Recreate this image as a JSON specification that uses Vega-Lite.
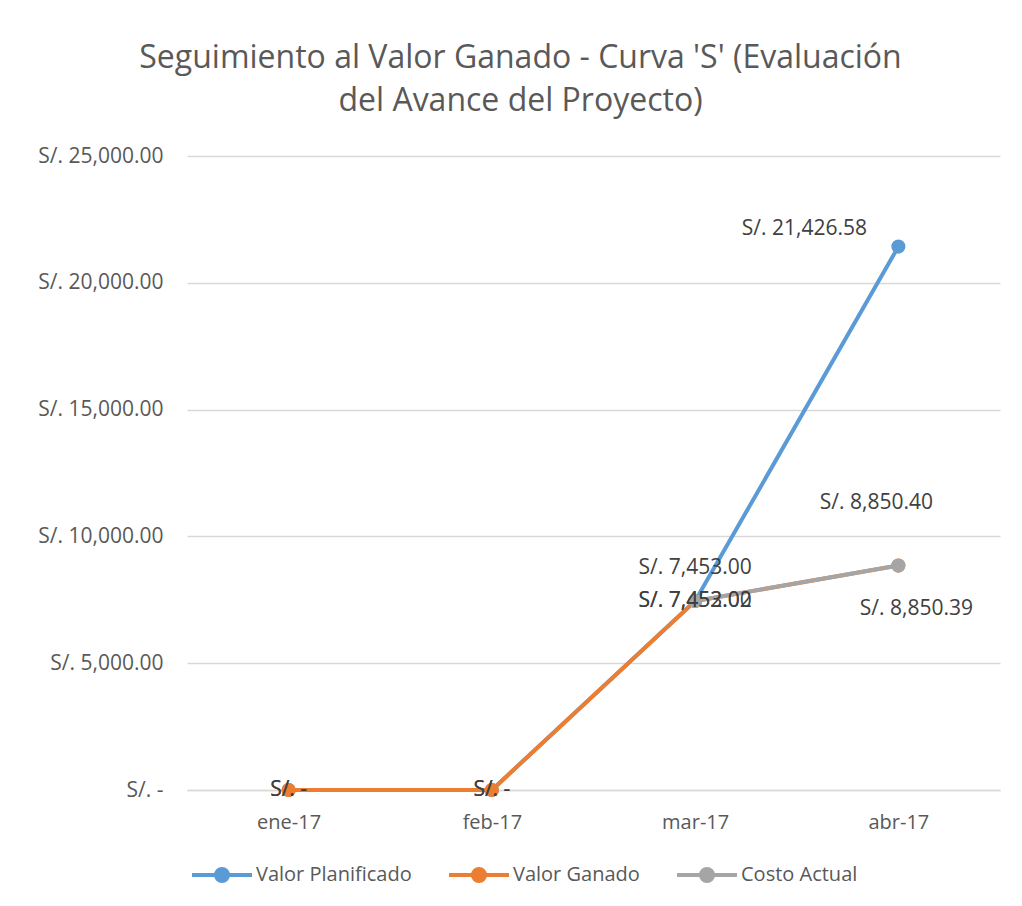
{
  "$schema": "https://vega.github.io/schema/vega-lite/v6.json",
  "autosize": {"type": "none"},
  "width": 813,
  "height": 634,
  "padding": {"left": 187, "top": 156, "right": 22, "bottom": 116},
  "background": "white",
  "title": {
    "text": ["Seguimiento al Valor Ganado - Curva 'S' (Evaluación", "del Avance del Proyecto)"],
    "font": "Open Sans",
    "fontSize": 32,
    "fontWeight": "normal",
    "color": "#595959",
    "anchor": "middle",
    "dx": -73,
    "offset": 27,
    "lineHeight": 43
  },
  "config": {
    "view": {"stroke": null},
    "font": "Open Sans"
  },
  "data": {
    "values": [
      {"mes": "ene-17", "serie": "Valor Planificado", "v": 0},
      {"mes": "feb-17", "serie": "Valor Planificado", "v": 0},
      {"mes": "mar-17", "serie": "Valor Planificado", "v": 7453.00},
      {"mes": "abr-17", "serie": "Valor Planificado", "v": 21426.58},
      {"mes": "ene-17", "serie": "Valor Ganado", "v": 0},
      {"mes": "feb-17", "serie": "Valor Ganado", "v": 0},
      {"mes": "mar-17", "serie": "Valor Ganado", "v": 7452.00},
      {"mes": "abr-17", "serie": "Valor Ganado", "v": 8850.39},
      {"mes": "mar-17", "serie": "Costo Actual", "v": 7453.02},
      {"mes": "abr-17", "serie": "Costo Actual", "v": 8850.40}
    ]
  },
  "transform": [
    {"calculate": "datum.v == 0 ? 'S/. -' : 'S/. ' + format(datum.v, ',.2f')", "as": "label"}
  ],
  "encoding": {
    "x": {
      "field": "mes",
      "type": "ordinal",
      "sort": ["ene-17", "feb-17", "mar-17", "abr-17"],
      "scale": {"type": "point", "padding": 0.5},
      "axis": {
        "title": null,
        "labelAngle": 0,
        "labelFont": "Open Sans",
        "labelFontSize": 20,
        "labelColor": "#595959",
        "labelPadding": 22,
        "ticks": false,
        "domainColor": "#d9d9d9",
        "domainWidth": 1.5,
        "grid": false
      }
    },
    "y": {
      "field": "v",
      "type": "quantitative",
      "scale": {"domain": [0, 25000], "nice": false},
      "axis": {
        "title": null,
        "values": [0, 5000, 10000, 15000, 20000, 25000],
        "labelExpr": "datum.value == 0 ? 'S/. -' : 'S/. ' + format(datum.value, ',.2f')",
        "labelFont": "Open Sans",
        "labelFontSize": 21,
        "labelColor": "#595959",
        "labelPadding": 24,
        "ticks": false,
        "domain": false,
        "gridColor": "#d9d9d9",
        "gridWidth": 1.5
      }
    }
  },
  "layer": [
    {
      "mark": {"type": "line", "strokeWidth": 4, "point": {"size": 200, "filled": true}},
      "encoding": {
        "color": {
          "field": "serie",
          "type": "nominal",
          "sort": ["Valor Planificado", "Valor Ganado", "Costo Actual"],
          "scale": {"domain": ["Valor Planificado", "Valor Ganado", "Costo Actual"], "range": ["#5B9BD5", "#ED7D31", "#A5A5A5"]},
          "legend": {
            "title": null,
            "orient": "none",
            "direction": "horizontal",
            "legendX": 3,
            "legendY": 687,
            "labelFont": "Open Sans",
            "labelFontSize": 20,
            "labelColor": "#595959",
            "symbolType": "M-1,0L-0.2,0M0.2,0L1,0M-0.2,0A0.2,0.2 0 1,1 0.2,0A0.2,0.2 0 1,1 -0.2,0",
            "symbolSize": 3600,
            "symbolStrokeWidth": 4,
            "columnPadding": 29,
            "labelOffset": 2
          }
        }
      }
    },
    {
      "transform": [{"filter": "datum.mes == 'ene-17' || datum.mes == 'feb-17' || (datum.mes == 'mar-17' && datum.serie != 'Valor Planificado')"}],
      "mark": {"type": "text", "fontSize": 21, "color": "#404040", "align": "center", "baseline": "middle"},
      "encoding": {"text": {"field": "label"}}
    },
    {
      "transform": [{"filter": "datum.mes == 'mar-17' && datum.serie == 'Valor Planificado'"}],
      "mark": {"type": "text", "fontSize": 21, "color": "#404040", "align": "center", "baseline": "middle", "dy": -33},
      "encoding": {"text": {"field": "label"}}
    },
    {
      "transform": [{"filter": "datum.mes == 'abr-17' && datum.serie == 'Valor Planificado'"}],
      "mark": {"type": "text", "fontSize": 21, "color": "#404040", "align": "center", "baseline": "middle", "dx": -94, "dy": -18},
      "encoding": {"text": {"field": "label"}}
    },
    {
      "transform": [{"filter": "datum.mes == 'abr-17' && datum.serie == 'Costo Actual'"}],
      "mark": {"type": "text", "fontSize": 21, "color": "#404040", "align": "center", "baseline": "middle", "dx": -22, "dy": -63},
      "encoding": {"text": {"field": "label"}}
    },
    {
      "transform": [{"filter": "datum.mes == 'abr-17' && datum.serie == 'Valor Ganado'"}],
      "mark": {"type": "text", "fontSize": 21, "color": "#404040", "align": "center", "baseline": "middle", "dx": 18, "dy": 43},
      "encoding": {"text": {"field": "label"}}
    }
  ]
}
